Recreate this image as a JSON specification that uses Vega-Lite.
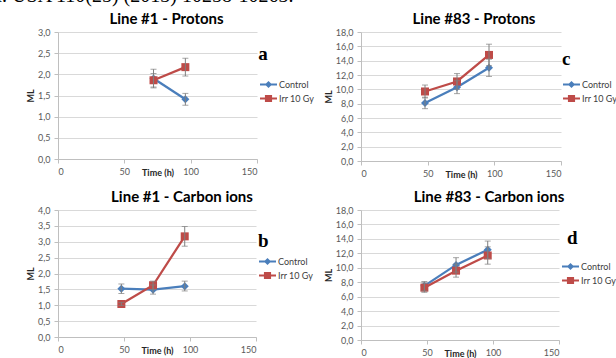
{
  "$schema": "https://vega.github.io/schema/vega-lite/v6.json",
  "autosize": "none",
  "padding": {"left": 58, "top": 32, "right": 558, "bottom": 326},
  "background": "white",
  "title": {"text": "Sci. USA 110(25) (2013) 10258-10263.", "font": "Liberation Serif", "fontSize": 20, "fontWeight": "normal", "anchor": "start", "dx": -50, "offset": 6, "color": "#000000"},
  "datasets": {
    "pa": [
      {"series": "Control", "t": 72, "ml": 1.9, "lo": 1.68, "hi": 2.12},
      {"series": "Control", "t": 96, "ml": 1.41, "lo": 1.27, "hi": 1.55},
      {"series": "Irr 10 Gy", "t": 72, "ml": 1.86, "lo": 1.7, "hi": 2.02},
      {"series": "Irr 10 Gy", "t": 96, "ml": 2.17, "lo": 1.96, "hi": 2.38}
    ],
    "pb": [
      {"series": "Control", "t": 48, "ml": 1.52, "lo": 1.37, "hi": 1.67},
      {"series": "Control", "t": 72, "ml": 1.49, "lo": 1.35, "hi": 1.64},
      {"series": "Control", "t": 96, "ml": 1.6, "lo": 1.45, "hi": 1.76},
      {"series": "Irr 10 Gy", "t": 48, "ml": 1.04, "lo": 0.99, "hi": 1.09},
      {"series": "Irr 10 Gy", "t": 72, "ml": 1.63, "lo": 1.5, "hi": 1.76},
      {"series": "Irr 10 Gy", "t": 96, "ml": 3.17, "lo": 2.86, "hi": 3.48}
    ],
    "pc": [
      {"series": "Control", "t": 48, "ml": 8.1, "lo": 7.3, "hi": 8.9},
      {"series": "Control", "t": 72, "ml": 10.3, "lo": 9.4, "hi": 11.2},
      {"series": "Control", "t": 96, "ml": 13.0, "lo": 11.8, "hi": 14.2},
      {"series": "Irr 10 Gy", "t": 48, "ml": 9.7, "lo": 8.8, "hi": 10.6},
      {"series": "Irr 10 Gy", "t": 72, "ml": 11.1, "lo": 10.0, "hi": 12.2},
      {"series": "Irr 10 Gy", "t": 96, "ml": 14.8, "lo": 13.3, "hi": 16.3}
    ],
    "pd": [
      {"series": "Control", "t": 48, "ml": 7.5, "lo": 6.8, "hi": 8.1},
      {"series": "Control", "t": 72, "ml": 10.4, "lo": 9.4, "hi": 11.4},
      {"series": "Control", "t": 96, "ml": 12.5, "lo": 11.3, "hi": 13.7},
      {"series": "Irr 10 Gy", "t": 48, "ml": 7.25, "lo": 6.6, "hi": 7.9},
      {"series": "Irr 10 Gy", "t": 72, "ml": 9.6, "lo": 8.7, "hi": 10.5},
      {"series": "Irr 10 Gy", "t": 96, "ml": 11.7, "lo": 10.5, "hi": 12.9}
    ]
  },
  "config": {
    "view": {"stroke": null},
    "font": "Lato",
    "axis": {"labelFont": "Lato", "labelFontSize": 9, "labelColor": "#595959", "titleFont": "Lato", "titleFontSize": 9, "titleFontWeight": "bold", "titleColor": "#262626", "domainColor": "#bfbfbf", "tickColor": "#bfbfbf", "gridColor": "#d9d9d9", "tickSize": 4, "labelOverlap": false},
    "axisX": {"grid": false, "labelPadding": 4, "titleY": 13, "titleBaseline": "middle"},
    "axisY": {"grid": true, "labelPadding": 4, "titlePadding": 2, "labelExpr": "replace(format(datum.value, '.1f'), '.', ',')"},
    "title": {"font": "Lato", "fontSize": 15, "fontWeight": "bold", "color": "#000000", "anchor": "middle", "offset": 1, "baseline": "alphabetic"},
    "legend": {"title": null, "orient": "none", "padding": 0, "rowPadding": 0, "labelFont": "Lato", "labelFontSize": 9, "labelColor": "#404040", "symbolSize": 289, "labelOffset": 2, "symbolStrokeWidth": 0, "symbolOpacity": 1}
  },
  "bounds": "flush",
  "columns": 2,
  "spacing": {"row": 49, "column": 104},
  "concat": [
    {
      "width": 199, "height": 127,
      "data": {"name": "pa"},
      "title": {"text": "Line #1 - Protons", "dx": 9},
      "encoding": {
        "x": {"field": "t", "type": "quantitative", "scale": {"domain": [0, 150]}, "axis": {"values": [0, 50, 100, 150]}, "title": "Time (h)"},
        "y": {"field": "ml", "type": "quantitative", "scale": {"domain": [0, 3]}, "axis": {"values": [0, 0.5, 1, 1.5, 2, 2.5, 3], "tickCount": 7}, "title": "ML"}
      },
      "layer": [
        {"mark": {"type": "line", "strokeWidth": 2.25},
         "encoding": {
           "color": {"field": "series", "type": "nominal", "scale": {"domain": ["Control", "Irr 10 Gy"], "range": ["#4a7ebb", "#be4b48"]},
             "legend": {"legendX": 202, "legendY": 44, "encode": {"symbols": {"update": {"shape": {"signal": "datum.value === 'Control' ? 'M-1,-0.12H1V0.12H-1Z M0,-0.42L0.42,0L0,0.42L-0.42,0Z' : 'M-1,-0.12H1V0.12H-1Z M-0.42,-0.42H0.42V0.42H-0.42Z'"}, "fill": {"signal": "datum.value === 'Control' ? '#4a7ebb' : '#be4b48'"}, "strokeWidth": {"value": 0}}}}}}}},
        {"mark": {"type": "point", "filled": true, "size": 64, "opacity": 1},
         "encoding": {
           "color": {"field": "series", "type": "nominal"},
           "shape": {"condition": {"test": "datum.series === 'Control'", "value": "diamond"}, "value": "square"}}},
        {"mark": {"type": "errorbar", "ticks": {"size": 6, "thickness": 1}, "thickness": 1},
         "encoding": {"y": {"field": "lo", "type": "quantitative", "scale": {"domain": [0, 3]}, "axis": {"values": [0, 0.5, 1, 1.5, 2, 2.5, 3], "tickCount": 7}, "title": "ML"}, "y2": {"field": "hi"}, "color": {"value": "#7f7f7f"}}},
        {"transform": [{"filter": "datum.t === 96 && datum.series === 'Control'"}],
         "mark": {"type": "text", "font": "Liberation Serif", "fontWeight": "bold", "fontSize": 19, "align": "left", "baseline": "alphabetic", "color": "#000000"},
         "encoding": {"x": {"datum": 151}, "y": {"datum": 2.35}, "text": {"value": "a"}}}
      ]
    },
    {
      "width": 200, "height": 129,
      "data": {"name": "pc"},
      "title": {"text": "Line #83 - Protons", "dx": 13},
      "encoding": {
        "x": {"field": "t", "type": "quantitative", "scale": {"domain": [0, 150]}, "axis": {"values": [0, 50, 100, 150]}, "title": "Time (h)"},
        "y": {"field": "ml", "type": "quantitative", "scale": {"domain": [0, 18]}, "axis": {"values": [0, 2, 4, 6, 8, 10, 12, 14, 16, 18], "tickCount": 10}, "title": "ML"}
      },
      "layer": [
        {"mark": {"type": "line", "strokeWidth": 2.25},
         "encoding": {
           "color": {"field": "series", "type": "nominal", "scale": {"domain": ["Control", "Irr 10 Gy"], "range": ["#4a7ebb", "#be4b48"]},
             "legend": {"legendX": 202, "legendY": 44, "encode": {"symbols": {"update": {"shape": {"signal": "datum.value === 'Control' ? 'M-1,-0.12H1V0.12H-1Z M0,-0.42L0.42,0L0,0.42L-0.42,0Z' : 'M-1,-0.12H1V0.12H-1Z M-0.42,-0.42H0.42V0.42H-0.42Z'"}, "fill": {"signal": "datum.value === 'Control' ? '#4a7ebb' : '#be4b48'"}, "strokeWidth": {"value": 0}}}}}}}},
        {"mark": {"type": "point", "filled": true, "size": 64, "opacity": 1},
         "encoding": {
           "color": {"field": "series", "type": "nominal"},
           "shape": {"condition": {"test": "datum.series === 'Control'", "value": "diamond"}, "value": "square"}}},
        {"mark": {"type": "errorbar", "ticks": {"size": 6, "thickness": 1}, "thickness": 1},
         "encoding": {"y": {"field": "lo", "type": "quantitative", "scale": {"domain": [0, 18]}, "axis": {"values": [0, 2, 4, 6, 8, 10, 12, 14, 16, 18], "tickCount": 10}, "title": "ML"}, "y2": {"field": "hi"}, "color": {"value": "#7f7f7f"}}},
        {"transform": [{"filter": "datum.t === 96 && datum.series === 'Control'"}],
         "mark": {"type": "text", "font": "Liberation Serif", "fontWeight": "bold", "fontSize": 19, "align": "left", "baseline": "alphabetic", "color": "#000000"},
         "encoding": {"x": {"datum": 150.75}, "y": {"datum": 13.4}, "text": {"value": "c"}}}
      ]
    },
    {
      "width": 198, "height": 127,
      "data": {"name": "pb"},
      "title": {"text": "Line #1 - Carbon ions", "dx": 25},
      "encoding": {
        "x": {"field": "t", "type": "quantitative", "scale": {"domain": [0, 150]}, "axis": {"values": [0, 50, 100, 150]}, "title": "Time (h)"},
        "y": {"field": "ml", "type": "quantitative", "scale": {"domain": [0, 4]}, "axis": {"values": [0, 0.5, 1, 1.5, 2, 2.5, 3, 3.5, 4], "tickCount": 9}, "title": "ML"}
      },
      "layer": [
        {"mark": {"type": "line", "strokeWidth": 2.25},
         "encoding": {
           "color": {"field": "series", "type": "nominal", "scale": {"domain": ["Control", "Irr 10 Gy"], "range": ["#4a7ebb", "#be4b48"]},
             "legend": {"legendX": 201, "legendY": 43, "encode": {"symbols": {"update": {"shape": {"signal": "datum.value === 'Control' ? 'M-1,-0.12H1V0.12H-1Z M0,-0.42L0.42,0L0,0.42L-0.42,0Z' : 'M-1,-0.12H1V0.12H-1Z M-0.42,-0.42H0.42V0.42H-0.42Z'"}, "fill": {"signal": "datum.value === 'Control' ? '#4a7ebb' : '#be4b48'"}, "strokeWidth": {"value": 0}}}}}}}},
        {"mark": {"type": "point", "filled": true, "size": 64, "opacity": 1},
         "encoding": {
           "color": {"field": "series", "type": "nominal"},
           "shape": {"condition": {"test": "datum.series === 'Control'", "value": "diamond"}, "value": "square"}}},
        {"mark": {"type": "errorbar", "ticks": {"size": 6, "thickness": 1}, "thickness": 1},
         "encoding": {"y": {"field": "lo", "type": "quantitative", "scale": {"domain": [0, 4]}, "axis": {"values": [0, 0.5, 1, 1.5, 2, 2.5, 3, 3.5, 4], "tickCount": 9}, "title": "ML"}, "y2": {"field": "hi"}, "color": {"value": "#7f7f7f"}}},
        {"transform": [{"filter": "datum.t === 96 && datum.series === 'Control'"}],
         "mark": {"type": "text", "font": "Liberation Serif", "fontWeight": "bold", "fontSize": 19, "align": "left", "baseline": "alphabetic", "color": "#000000"},
         "encoding": {"x": {"datum": 151.5}, "y": {"datum": 2.83}, "text": {"value": "b"}}}
      ]
    },
    {
      "width": 198, "height": 130,
      "data": {"name": "pd"},
      "title": {"text": "Line #83 - Carbon ions", "dx": 29},
      "encoding": {
        "x": {"field": "t", "type": "quantitative", "scale": {"domain": [0, 150]}, "axis": {"values": [0, 50, 100, 150]}, "title": "Time (h)"},
        "y": {"field": "ml", "type": "quantitative", "scale": {"domain": [0, 18]}, "axis": {"values": [0, 2, 4, 6, 8, 10, 12, 14, 16, 18], "tickCount": 10}, "title": "ML"}
      },
      "layer": [
        {"mark": {"type": "line", "strokeWidth": 2.25},
         "encoding": {
           "color": {"field": "series", "type": "nominal", "scale": {"domain": ["Control", "Irr 10 Gy"], "range": ["#4a7ebb", "#be4b48"]},
             "legend": {"legendX": 201, "legendY": 48, "encode": {"symbols": {"update": {"shape": {"signal": "datum.value === 'Control' ? 'M-1,-0.12H1V0.12H-1Z M0,-0.42L0.42,0L0,0.42L-0.42,0Z' : 'M-1,-0.12H1V0.12H-1Z M-0.42,-0.42H0.42V0.42H-0.42Z'"}, "fill": {"signal": "datum.value === 'Control' ? '#4a7ebb' : '#be4b48'"}, "strokeWidth": {"value": 0}}}}}}}},
        {"mark": {"type": "point", "filled": true, "size": 64, "opacity": 1},
         "encoding": {
           "color": {"field": "series", "type": "nominal"},
           "shape": {"condition": {"test": "datum.series === 'Control'", "value": "diamond"}, "value": "square"}}},
        {"mark": {"type": "errorbar", "ticks": {"size": 6, "thickness": 1}, "thickness": 1},
         "encoding": {"y": {"field": "lo", "type": "quantitative", "scale": {"domain": [0, 18]}, "axis": {"values": [0, 2, 4, 6, 8, 10, 12, 14, 16, 18], "tickCount": 10}, "title": "ML"}, "y2": {"field": "hi"}, "color": {"value": "#7f7f7f"}}},
        {"transform": [{"filter": "datum.t === 96 && datum.series === 'Control'"}],
         "mark": {"type": "text", "font": "Liberation Serif", "fontWeight": "bold", "fontSize": 19, "align": "left", "baseline": "alphabetic", "color": "#000000"},
         "encoding": {"x": {"datum": 156}, "y": {"datum": 13.3}, "text": {"value": "d"}}}
      ]
    }
  ],
  "resolve": {"scale": {"color": "independent"}, "legend": {"color": "independent"}}
}
